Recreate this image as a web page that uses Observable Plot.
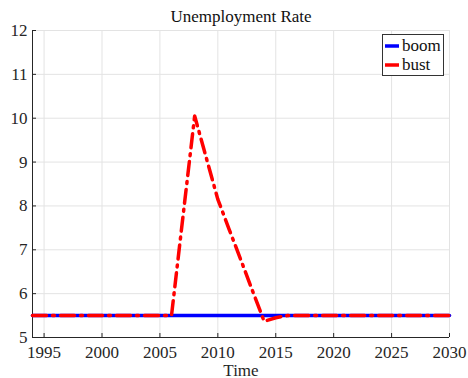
<!DOCTYPE html>
<html>
<head>
<meta charset="utf-8">
<script src="https://cdn.jsdelivr.net/npm/d3@7"></script>
<script src="https://cdn.jsdelivr.net/npm/@observablehq/plot@0.6"></script>
<style>
  html, body { margin: 0; padding: 0; background: #fff; }
  #wrap { position: relative; width: 468px; height: 378px; font-family: "Liberation Serif", "DejaVu Serif", serif; }
  #wrap svg text { font-family: "Liberation Serif", "DejaVu Serif", serif; }
  #legend {
    position: absolute; left: 382px; top: 34px; width: 62px; height: 42px;
    border: 1px solid #333; background: #fff; box-sizing: border-box;
    font-size: 17px; line-height: 19px; padding-top: 1px; color: #111;
  }
  #legend .row { display: flex; align-items: center; height: 19px; }
  #legend svg { margin: 0 2px 0 1px; }
</style>
</head>
<body>
<div id="wrap"></div>
<script>
// Annual path of the unemployment rate under two scenarios
const years = d3.range(1994, 2031);
const boom = years.map(() => 5.5);
const bust = [
  5.5, 5.5, 5.5, 5.5, 5.5, 5.5, 5.5, 5.5, 5.5, 5.5, 5.5, 5.5, 5.5,   // 1994–2006
  7.78, 10.05, 9.1, 8.15, 7.45, 6.76, 6.06, 5.37, 5.45,               // 2007–2015
  5.5, 5.5, 5.5, 5.5, 5.5, 5.5, 5.5, 5.5, 5.5, 5.5, 5.5, 5.5, 5.5, 5.5, 5.5 // 2016–2030
];
const xTicks = [1995, 2000, 2005, 2010, 2015, 2020, 2025, 2030];
const yTicks = [5, 6, 7, 8, 9, 10, 11, 12];
const seriesNames = ["boom", "bust"];
const seriesColors = ["#0000ff", "#ff0000"];
const bustDash = "14,6,2,6";

const boomRows = years.map((t, i) => ({t, v: boom[i]}));
const bustRows = years.map((t, i) => ({t, v: bust[i]}));

const font = "Liberation Serif, DejaVu Serif, serif";

const chart = Plot.plot({
  width: 468,
  height: 378,
  marginTop: 30,
  marginLeft: 32,
  marginRight: 19,
  marginBottom: 41,
  style: {fontFamily: font, fontSize: "17px", background: "#fff"},
  x: {domain: [1994, 2030]},
  y: {domain: [5, 12]},
  marks: [
    Plot.gridX(xTicks, {stroke: "#e3e3e3", strokeOpacity: 1, strokeWidth: 1}),
    Plot.gridY(yTicks, {stroke: "#e3e3e3", strokeOpacity: 1, strokeWidth: 1}),
    Plot.ruleX([1994], {stroke: "#262626", strokeWidth: 1}),
    Plot.ruleY([5], {stroke: "#262626", strokeWidth: 1}),
    Plot.axisY(yTicks, {tickSize: -4, tickPadding: 9, stroke: "#262626", fill: "#262626", fontSize: 17, label: null}),
    Plot.axisX(xTicks, {tickSize: -4, tickPadding: 12, stroke: "#262626", fill: "#262626", fontSize: 17,
      tickFormat: d => String(d), label: "Time", labelAnchor: "center", labelArrow: "none", labelOffset: 38}),
    Plot.line(boomRows, {x: "t", y: "v", stroke: seriesColors[0], strokeWidth: 3.5}),
    Plot.line(bustRows, {x: "t", y: "v", stroke: seriesColors[1], strokeWidth: 3.5, strokeDasharray: bustDash}),
    Plot.text(["Unemployment Rate"], {frameAnchor: "top", dy: -21, fontSize: 17, fill: "#111"})
  ]
});

const wrap = document.getElementById("wrap");
wrap.appendChild(chart);

// Legend box in the upper-right corner of the axes
const legend = document.createElement("div");
legend.id = "legend";
seriesNames.forEach((name, i) => {
  const row = document.createElement("div");
  row.className = "row";
  const sw = d3.create("svg").attr("width", 16).attr("height", 6);
  sw.append("line").attr("x1", 1).attr("x2", 15).attr("y1", 3).attr("y2", 3)
    .attr("stroke", seriesColors[i]).attr("stroke-width", 3.5);
  row.appendChild(sw.node());
  const label = document.createElement("span");
  label.textContent = name;
  row.appendChild(label);
  legend.appendChild(row);
});
wrap.appendChild(legend);
</script>
</body>
</html>
